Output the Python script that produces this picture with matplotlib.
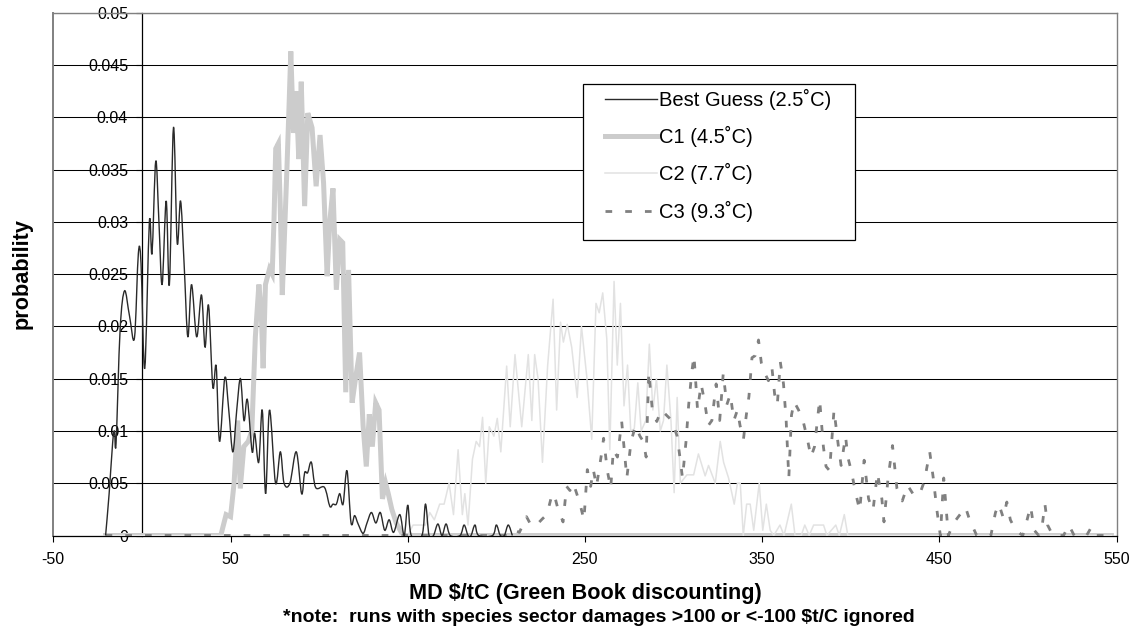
import matplotlib
matplotlib.use("Agg")
import matplotlib.pyplot as plt
from matplotlib.patches import Rectangle, PathPatch
from matplotlib.path import Path
from matplotlib.lines import Line2D

plt.rcParams['font.family'] = ['Liberation Sans', 'DejaVu Sans']

# ---- data ----
x_ticks = [-50, 50, 150, 250, 350, 450, 550]
x_tick_labels = ['-50', '50', '150', '250', '350', '450', '550']
y_ticks = [0, 0.005, 0.01, 0.015, 0.02, 0.025, 0.03, 0.035, 0.04, 0.045, 0.05]
y_tick_labels = ['0', '0.005', '0.01', '0.015', '0.02', '0.025', '0.03',
                 '0.035', '0.04', '0.045', '0.05']

series_names = ['Best Guess (2.5˚C)', 'C1 (4.5˚C)', 'C2 (7.7˚C)', 'C3 (9.3˚C)']

best_guess = [
    (-20.5, 0), (-18.5, 0.004), (-16.5, 0.0089), (-15.5, 0.0100), (-14.6, 0.0088),
    (-12.3, 0.0197), (-9.8, 0.0234), (-7.0, 0.0210), (-4.2, 0.0189), (-2.0, 0.0270),
    (-0.5, 0.0260), (1.6, 0.0160), (4.2, 0.0300), (5.7, 0.0270), (7.8, 0.0358),
    (9.6, 0.0300), (11.4, 0.0240), (13.7, 0.0320), (15.5, 0.0240), (17.8, 0.0390),
    (19.9, 0.0280), (21.8, 0.0320), (23.8, 0.0260), (25.9, 0.0190), (28.0, 0.0240),
    (30.9, 0.0190), (33.6, 0.0230), (35.6, 0.0180), (37.6, 0.0220), (40.0, 0.0142),
    (41.9, 0.0162), (43.8, 0.0090), (46.8, 0.0151), (49.0, 0.0120), (51.3, 0.0080),
    (53.5, 0.0120), (55.6, 0.0150), (57.6, 0.0110), (59.5, 0.0130), (62.2, 0.0080),
    (63.6, 0.0098), (65.9, 0.0070), (67.9, 0.0120), (69.8, 0.0040), (72.0, 0.0120),
    (75.4, 0.0050), (78.1, 0.0080), (80.2, 0.0050), (83.5, 0.0050), (87.1, 0.0080),
    (90.1, 0.0040), (91.8, 0.0060), (93.5, 0.0060), (95.6, 0.0070), (98.0, 0.0046),
    (103.0, 0.0046), (106.0, 0.0028), (107.8, 0.0030), (109.7, 0.0030), (111.6, 0.0040),
    (113.5, 0.0030), (115.7, 0.0062), (118.0, 0.0012), (120.0, 0.0019), (122.0, 0.0011),
    (124.8, 0.0002), (127.0, 0.0012), (129.5, 0.0022), (132.0, 0.0012), (134.5, 0.0022),
    (137.0, 0.0005), (139.5, 0.0015), (142.0, 0.0003), (145.5, 0.0020), (148.0, 0.0),
    (150.0, 0.0029), (152.0, 0.0), (158.0, 0.0), (160.0, 0.0030), (162.0, 0.0),
    (164.5, 0.0), (167.0, 0.0011), (169.3, 0.0), (171.6, 0.0011), (174.0, 0.0),
    (179.5, 0.0), (181.8, 0.0010), (184.0, 0.0), (185.7, 0.0), (187.9, 0.0010),
    (190.0, 0.0), (197.8, 0.0), (200.0, 0.0010), (202.2, 0.0), (204.5, 0.0),
    (206.7, 0.0010), (209.0, 0.0),
]

c1 = [
    (-20.5, 0), (44.5, 0), (47.5, 0.0020), (50.0, 0.0018), (52.0, 0.0050),
    (54.0, 0.0110), (55.5, 0.0045), (57.5, 0.0085), (60.0, 0.0090), (62.0, 0.0100),
    (64.0, 0.0190), (66.0, 0.0240), (67.3, 0.0215), (68.4, 0.0160), (69.7, 0.0240),
    (72.0, 0.0255), (73.5, 0.0250), (74.5, 0.0300), (75.5, 0.0370), (77.0, 0.0375),
    (78.0, 0.0318), (79.2, 0.0230), (80.5, 0.0290), (81.8, 0.0350), (83.0, 0.0410),
    (84.0, 0.0463), (85.5, 0.0385), (87.0, 0.0425), (88.5, 0.0360), (89.9, 0.0434),
    (91.8, 0.0315), (93.6, 0.0404), (96.0, 0.0390), (98.3, 0.0334), (100.5, 0.0383),
    (102.5, 0.0337), (104.5, 0.0248), (106.0, 0.0300), (107.8, 0.0332), (109.7, 0.0235),
    (111.6, 0.0283), (113.3, 0.0280), (115.0, 0.0137), (116.6, 0.0254), (118.6, 0.0127),
    (120.5, 0.0150), (122.8, 0.0175), (124.8, 0.0105), (126.6, 0.0066), (128.3, 0.0116),
    (130.0, 0.0085), (131.9, 0.0127), (133.8, 0.0120), (135.7, 0.0035), (137.5, 0.0050),
    (139.0, 0.0040), (141.0, 0.0025), (143.5, 0.0012), (147.3, 0.0), (547.0, 0.0),
]

c2 = [
    (-20.5, 0), (150.0, 0), (153.0, 0.0010), (160.0, 0.0010), (162.4, 0.0022),
    (165.0, 0.0015), (168.0, 0.0030), (170.5, 0.0030), (173.3, 0.0050), (175.8, 0.0020),
    (178.4, 0.0082), (180.8, 0.0020), (182.2, 0.0040), (184.0, 0.0010), (186.5, 0.0073),
    (188.6, 0.0090), (190.5, 0.0085), (192.2, 0.0113), (194.0, 0.0050), (196.0, 0.0104),
    (198.6, 0.0095), (200.5, 0.0112), (202.5, 0.0080), (205.8, 0.0162), (207.8, 0.0104),
    (210.5, 0.0173), (214.3, 0.0104), (218.0, 0.0173), (220.0, 0.0110), (221.6, 0.0173),
    (223.5, 0.0150), (226.0, 0.0070), (228.9, 0.0162), (232.0, 0.0226), (234.0, 0.0120),
    (236.2, 0.0204), (237.8, 0.0185), (240.0, 0.0202), (242.5, 0.0180), (245.6, 0.0132),
    (248.0, 0.0200), (251.0, 0.0152), (253.8, 0.0092), (256.2, 0.0222), (258.0, 0.0213),
    (260.0, 0.0232), (262.3, 0.0188), (264.0, 0.0082), (266.4, 0.0243), (268.2, 0.0163),
    (270.0, 0.0222), (272.0, 0.0124), (274.0, 0.0163), (275.8, 0.0100), (277.8, 0.0102),
    (279.8, 0.0146), (281.7, 0.0100), (284.3, 0.0110), (286.3, 0.0183), (288.3, 0.0120),
    (290.3, 0.0150), (292.5, 0.0100), (294.3, 0.0110), (296.2, 0.0163), (298.5, 0.0110),
    (300.3, 0.0041), (302.0, 0.0132), (303.8, 0.0050), (307.5, 0.0058), (311.3, 0.0058),
    (314.0, 0.0078), (317.8, 0.0057), (319.7, 0.0067), (323.5, 0.0050), (326.3, 0.0090),
    (328.2, 0.0070), (331.0, 0.0055), (334.2, 0.0030), (336.0, 0.0050), (337.6, 0.0050),
    (339.3, 0.0), (341.2, 0.0030), (343.2, 0.0030), (345.2, 0.0005), (348.3, 0.0050),
    (350.3, 0.0005), (352.3, 0.0030), (354.5, 0.0005), (356.5, 0.0), (360.0, 0.0010),
    (362.3, 0.0), (366.4, 0.0030), (368.5, 0.0), (372.0, 0.0), (374.0, 0.0010),
    (376.5, 0.0), (379.0, 0.0010), (384.6, 0.0010), (386.5, 0.0), (391.5, 0.0010),
    (393.5, 0.0), (396.3, 0.0020), (398.3, 0.0), (547.0, 0.0),
]

c3 = [
    (-20.5, 0), (208.0, 0), (210.5, 0.0005), (213.0, 0.0003), (217.0, 0.0018),
    (219.5, 0.0010), (222.0, 0.0009), (226.0, 0.0016), (228.5, 0.0020), (231.2, 0.0038),
    (232.5, 0.0040), (234.5, 0.0027), (237.6, 0.0013), (239.6, 0.0047), (241.5, 0.0043),
    (243.4, 0.0050), (246.3, 0.0035), (247.5, 0.0028), (249.4, 0.0015), (251.3, 0.0063),
    (253.2, 0.0047), (254.7, 0.0063), (256.5, 0.0047), (259.4, 0.0079), (260.5, 0.0093),
    (262.6, 0.0062), (264.5, 0.0045), (266.0, 0.0082), (268.3, 0.0075), (270.7, 0.0109),
    (273.6, 0.0055), (276.0, 0.0090), (278.5, 0.0105), (281.0, 0.0095), (282.9, 0.0090),
    (284.5, 0.0075), (286.0, 0.0156), (288.0, 0.0120), (290.5, 0.0109), (293.0, 0.0120),
    (296.0, 0.0115), (299.0, 0.0110), (302.0, 0.0095), (303.7, 0.0073), (305.0, 0.0055),
    (307.0, 0.0090), (308.5, 0.0125), (310.3, 0.0157), (311.5, 0.0172), (313.5, 0.0120),
    (315.5, 0.0145), (317.5, 0.0128), (319.5, 0.0105), (321.6, 0.0110), (324.0, 0.0145),
    (326.0, 0.0110), (328.0, 0.0155), (330.0, 0.0125), (332.0, 0.0135), (334.0, 0.0110),
    (336.0, 0.0120), (337.5, 0.0105), (339.4, 0.0092), (341.0, 0.0115), (342.5, 0.0133),
    (344.2, 0.0170), (346.0, 0.0172), (347.9, 0.0187), (349.5, 0.0165), (351.5, 0.0155),
    (353.5, 0.0148), (355.5, 0.0160), (357.0, 0.0135), (358.5, 0.0125), (360.2, 0.0166),
    (362.0, 0.0145), (363.5, 0.0110), (365.0, 0.0055), (366.5, 0.0115), (368.0, 0.0128),
    (370.5, 0.0120), (373.0, 0.0110), (375.5, 0.0092), (377.5, 0.0075), (379.5, 0.0085),
    (382.4, 0.0130), (384.5, 0.0085), (386.0, 0.0066), (388.0, 0.0062), (390.5, 0.0120),
    (393.0, 0.0085), (394.5, 0.0067), (397.0, 0.0095), (398.3, 0.0075), (400.5, 0.0060),
    (402.5, 0.0042), (405.0, 0.0024), (407.5, 0.0072), (410.0, 0.0035), (412.5, 0.0024),
    (415.0, 0.0060), (417.5, 0.0035), (418.7, 0.0013), (421.0, 0.0055), (423.5, 0.0086),
    (426.0, 0.0045), (429.0, 0.0033), (432.0, 0.0048), (435.0, 0.0040), (438.5, 0.0038),
    (441.5, 0.0052), (444.5, 0.0080), (446.5, 0.0055), (448.5, 0.0025), (450.5, 0.0),
    (452.4, 0.0055), (455.0, 0.0), (458.0, 0.0012), (464.7, 0.0027), (467.0, 0.0015),
    (471.0, 0.0), (479.0, 0.0), (481.6, 0.0022), (483.5, 0.0030), (486.0, 0.0017),
    (488.0, 0.0032), (490.0, 0.0015), (493.0, 0.0005), (497.0, 0.0), (499.0, 0.0012),
    (501.4, 0.0028), (503.5, 0.0005), (506.0, 0.0), (508.0, 0.0010), (509.5, 0.0030),
    (511.0, 0.0010), (514.0, 0.0), (520.0, 0.0), (523.0, 0.0010), (526.0, 0.0),
    (533.0, 0.0), (535.7, 0.0008), (538.0, 0.0), (547.0, 0.0),
]

# ---- layout helpers (pixel -> figure fraction) ----
W, H = 1135, 631
def fx(px): return px / W
def fy(py): return 1 - py / H


def xy(pts):
    return [p[0] for p in pts], [p[1] for p in pts]


def smooth_path(pts):
    # Excel style "smoothed line": Catmull-Rom through the points, as Bezier segments
    n = len(pts)
    verts = [pts[0]]
    codes = [Path.MOVETO]
    for i in range(n - 1):
        p0 = pts[max(i - 1, 0)]
        p1 = pts[i]
        p2 = pts[i + 1]
        p3 = pts[min(i + 2, n - 1)]
        c1 = (p1[0] + (p2[0] - p0[0]) / 6, p1[1] + (p2[1] - p0[1]) / 6)
        c2 = (p2[0] - (p3[0] - p1[0]) / 6, p2[1] - (p3[1] - p1[1]) / 6)
        verts += [c1, c2, p2]
        codes += [Path.CURVE4] * 3
    return Path(verts, codes)


fig = plt.figure(figsize=(W / 100, H / 100), dpi=100)
ax = fig.add_axes([fx(53.3), fy(535.5), fx(1116.7) - fx(53.3), fy(12.7) - fy(535.5)])

# series (C1 at the back, best guess on top)
l_c1, = ax.plot(*xy(c1), color='#cccccc', lw=3.6, solid_joinstyle='miter', zorder=3)
l_c2, = ax.plot(*xy(c2), color='#e2e2e2', lw=1.1, zorder=3.2)
l_c3, = ax.plot(*xy(c3), color='#808080', lw=2.0, linestyle=(0, (2.4, 4.7)),
                dash_capstyle='butt', zorder=3.4)
bg_color = '#2a2a2a'
ax.add_patch(PathPatch(smooth_path(best_guess), facecolor='none', edgecolor=bg_color,
                       lw=1.0, zorder=3.6))
l_bg = Line2D([], [], color=bg_color, lw=1.0)

ax.set_xlim(-50, 550)
ax.set_ylim(0, 0.05)
ax.set_xticks(x_ticks)
ax.set_xticklabels(x_tick_labels)
ax.set_yticks(y_ticks)
ax.set_yticklabels(y_tick_labels)

ax.yaxis.grid(True, color='black', lw=0.75)
ax.set_axisbelow(True)

# y axis sits at x = 0, grey frame around the plot area
ax.spines['left'].set_position(('data', 0))
ax.spines['left'].set_color('black')
ax.spines['left'].set_linewidth(0.9)
ax.spines['bottom'].set_color('black')
ax.spines['bottom'].set_linewidth(0.9)
for s in ('top', 'right'):
    ax.spines[s].set_color('#808080')
    ax.spines[s].set_linewidth(1.0)
ax.axvline(-50, color='#808080', lw=1.4, clip_on=False, zorder=2.5)

ax.tick_params(axis='x', direction='out', length=4, width=0.8, pad=8, labelsize=11.5)
ax.tick_params(axis='y', direction='out', length=4, width=0.8, pad=6, labelsize=11.5)

# legend with a square frame
ax.add_patch(Rectangle((fx(583), fy(240)), fx(855) - fx(583), fy(84) - fy(240),
                       transform=fig.transFigure, facecolor='white', edgecolor='black',
                       lw=0.9, zorder=6, clip_on=False))
leg = ax.legend([l_bg, l_c1, l_c2, l_c3], series_names, loc='upper left',
                bbox_to_anchor=(fx(605), fy(89)), bbox_transform=fig.transFigure,
                frameon=False, borderpad=0, borderaxespad=0, handlelength=2.6,
                handletextpad=0.1, labelspacing=0.8, prop={'size': 14.5})
leg.set_zorder(7)

fig.text(fx(585), fy(593), 'MD $/tC (Green Book discounting)', ha='center', va='center',
         fontsize=15.6, fontweight='bold')
fig.text(fx(599), fy(617), '*note:  runs with species sector damages >100 or <-100 $t/C ignored',
         ha='center', va='center', fontsize=14, fontweight='bold')
fig.text(fx(22), fy(274), 'probability', rotation=90, ha='center', va='center',
         fontsize=15.6, fontweight='bold')

fig.savefig('out.png', dpi=100)
